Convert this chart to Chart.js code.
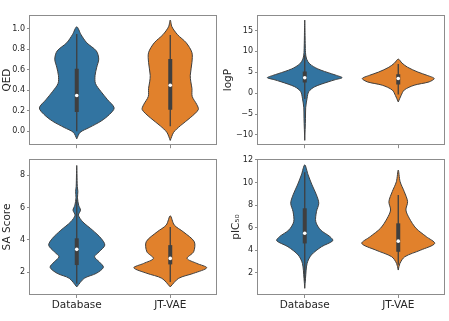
<!DOCTYPE html>
<html lang="en">
<head>
<meta charset="UTF-8">
<title>Violin plots - QED, logP, SA, pIC50</title>
<script src="https://cdn.jsdelivr.net/npm/chart.js"></script>
<style>
  body { margin: 0; background: #fff; width: 449px; height: 321px; position: relative; overflow: hidden; }
  canvas { position: absolute; }
</style>
</head>
<body>
<canvas id="qed" width="224" height="152" style="left:0;top:0"></canvas>
<canvas id="logp" width="227" height="152" style="left:222px;top:0"></canvas>
<canvas id="sa" width="224" height="169" style="left:0;top:152px"></canvas>
<canvas id="pic" width="225" height="169" style="left:224px;top:152px"></canvas>
<script>
const categories = ['Database', 'JT-VAE'];

// violin outlines: y levels and half widths (in category units)
const qedDbY = [-0.073, -0.01, 0.038, 0.10, 0.165, 0.229, 0.308, 0.387, 0.467, 0.546, 0.626, 0.705, 0.784, 0.864, 0.943, 1.02];
const qedDbW = [0, 0.036, 0.135, 0.26, 0.35, 0.40, 0.33, 0.26, 0.20, 0.196, 0.214, 0.235, 0.21, 0.107, 0.046, 0];
const qedJtY = [-0.089, -0.01, 0.054, 0.133, 0.212, 0.26, 0.34, 0.419, 0.483, 0.546, 0.673, 0.768, 0.864, 0.943, 1.02, 1.086];
const qedJtW = [0, 0.036, 0.107, 0.214, 0.30, 0.285, 0.235, 0.232, 0.22, 0.214, 0.232, 0.232, 0.171, 0.078, 0.018, 0];

const logpDbY = [-11.3, -6, -3.5, -1.2, 0.37, 1.54, 2.7, 3.25, 3.7, 4.25, 4.65, 5.8, 7.0, 8.15, 9.7, 17.5];
const logpDbW = [0, 0.008, 0.01, 0.025, 0.043, 0.107, 0.25, 0.33, 0.40, 0.34, 0.285, 0.14, 0.053, 0.02, 0.008, 0];
const logpJtY = [-2.1, -0.57, 0.75, 1.9, 2.7, 3.5, 4.25, 5.05, 6.2, 7.2, 8.15];
const logpJtW = [0, 0.03, 0.064, 0.17, 0.33, 0.385, 0.31, 0.21, 0.1, 0.04, 0];

const saDbY = [1.1, 1.63, 1.94, 2.31, 2.65, 2.96, 3.27, 3.68, 4.1, 4.6, 5.12, 5.53, 5.84, 6.15, 6.6, 7.0, 7.3, 8.6];
const saDbW = [0, 0.08, 0.21, 0.285, 0.24, 0.19, 0.24, 0.30, 0.26, 0.17, 0.064, 0.018, 0.04, 0.02, 0.008, 0.012, 0.006, 0];
const saJtY = [1.1, 1.63, 1.94, 2.28, 2.55, 2.86, 3.27, 3.89, 4.5, 4.92, 5.49];
const saJtW = [0, 0.09, 0.25, 0.39, 0.285, 0.18, 0.25, 0.257, 0.14, 0.043, 0];

const picDbY = [0.62, 1.5, 2.83, 3.57, 4.31, 4.84, 5.2, 5.79, 6.52, 7.41, 8.16, 8.9, 9.78, 10.67, 11.56];
const picDbW = [0, 0.008, 0.025, 0.07, 0.18, 0.30, 0.27, 0.17, 0.118, 0.125, 0.15, 0.125, 0.078, 0.036, 0];
const picJtY = [2.24, 2.83, 3.42, 4.01, 4.6, 5.2, 5.94, 6.83, 7.56, 8.3, 9.19, 10.07, 11.1];
const picJtW = [0, 0.018, 0.07, 0.24, 0.39, 0.30, 0.19, 0.118, 0.082, 0.1, 0.064, 0.02, 0];

// inner box: [whisker low, q1, median, q3, whisker high]
const qedDbStats = [0.0, 0.19, 0.35, 0.61, 0.95];
const qedJtStats = [0.05, 0.21, 0.45, 0.705, 0.94];
const logpDbStats = [-1.4, 2.55, 3.7, 5.2, 9.2];
const logpJtStats = [-0.3, 2.1, 3.5, 4.5, 7.0];
const saDbStats = [1.3, 2.45, 3.42, 4.1, 6.5];
const saJtStats = [1.4, 2.49, 2.86, 3.68, 4.8];
const picDbStats = [1.3, 4.6, 5.5, 7.71, 10.9];
const picJtStats = [2.7, 3.86, 4.8, 6.38, 8.9];

// tick labels
const qedTicks = [0.0, 0.2, 0.4, 0.6, 0.8, 1.0];
const logpTicks = [-10, -5, 0, 5, 10, 15];
const saTicks = [2, 4, 6, 8];
const picTicks = [2, 4, 6, 8, 10, 12];

const colors = ['#3274a1', '#e1812c'];
const edge = '#3f3f3f';
const font = 'DejaVu Sans';

function violin(ys, ws, cx, color) {
    const pts = [];
    for (let i = 0; i < ys.length; i++) pts.push({ x: cx + ws[i], y: ys[i] });
    for (let i = ys.length - 2; i >= 0; i--) pts.push({ x: cx - ws[i], y: ys[i] });
    return {
        data: pts, showLine: true, fill: 'shape', backgroundColor: color,
        borderColor: edge, borderWidth: 1, tension: 0.3, pointRadius: 0
    };
}

function inner(stats, cx) {
    return [
        { data: [{ x: cx, y: stats[2] }], pointRadius: 1.8, pointBackgroundColor: '#fff', pointBorderWidth: 0, showLine: false },
        { data: [{ x: cx, y: stats[1] }, { x: cx, y: stats[3] }], showLine: true, borderColor: edge, borderWidth: 4, borderCapStyle: 'butt', pointRadius: 0 },
        { data: [{ x: cx, y: stats[0] }, { x: cx, y: stats[4] }], showLine: true, borderColor: edge, borderWidth: 1.3, borderCapStyle: 'butt', pointRadius: 0 }
    ];
}

const frame = {
    id: 'frame',
    beforeDatasetsDraw(chart) {
        const { ctx, chartArea: a } = chart;
        ctx.save();
        ctx.strokeStyle = '#8c8c8c';
        ctx.lineWidth = 1;
        ctx.strokeRect(Math.round(a.left) - 0.5, Math.round(a.top) + 0.5, Math.round(a.right - a.left), Math.round(a.bottom - a.top) - 1);
        ctx.restore();
    }
};

function panel(id, p) {
    const datasets = [
        ...inner(p.stats[0], 0), ...inner(p.stats[1], 1),
        violin(p.ys[0], p.ws[0], 0, colors[0]),
        violin(p.ys[1], p.ws[1], 1, colors[1])
    ];
    new Chart(document.getElementById(id), {
        type: 'scatter',
        data: { datasets },
        options: {
            responsive: false,
            animation: false,
            devicePixelRatio: 1,
            layout: { padding: p.pad },
            plugins: { legend: { display: false }, tooltip: { enabled: false } },
            scales: {
                x: {
                    type: 'linear', min: -0.5, max: 1.5,
                    afterBuildTicks: s => { s.ticks = [{ value: 0 }, { value: 1 }]; },
                    afterFit: s => { s.height = p.xh; },
                    grid: { display: true, drawOnChartArea: false, tickLength: 3, color: '#8c8c8c' },
                    border: { display: false },
                    ticks: {
                        display: p.showX, padding: 1, maxRotation: 0, autoSkip: false,
                        color: '#262626', font: { family: font, size: 10.5 },
                        callback: v => categories[v]
                    }
                },
                y: {
                    type: 'linear', min: p.min, max: p.max,
                    afterBuildTicks: s => { s.ticks = p.ticks.map(v => ({ value: v })); },
                    afterFit: s => { s.width = p.yw; },
                    grid: { display: true, drawOnChartArea: false, tickLength: 3, color: '#8c8c8c' },
                    border: { display: false },
                    ticks: {
                        padding: 2, autoSkip: false, color: '#262626',
                        font: { family: font, size: 8 },
                        callback: p.fmt
                    },
                    title: {
                        display: true, text: p.title, color: '#262626',
                        font: { family: font, size: 10.5 },
                        padding: { top: p.tpad, bottom: 0 }
                    }
                }
            }
        },
        plugins: [frame]
    });
}

const minus = v => (v < 0 ? '\u2212' + Math.abs(v) : String(v));

panel('qed', {
    ys: [qedDbY, qedJtY], ws: [qedDbW, qedJtW], stats: [qedDbStats, qedJtStats],
    min: -0.135, max: 1.135, ticks: qedTicks, fmt: v => v.toFixed(1),
    title: 'QED', tpad: 1, yw: 30, xh: 4, showX: false,
    pad: { top: 15, right: 7, left: 0, bottom: 0 }
});
panel('logp', {
    ys: [logpDbY, logpJtY], ws: [logpDbW, logpJtW], stats: [logpDbStats, logpJtStats],
    min: -12.45, max: 18.7, ticks: logpTicks, fmt: minus,
    title: 'logP', tpad: 0, yw: 36, xh: 4, showX: false,
    pad: { top: 15, right: 4, left: 0, bottom: 0 }
});
panel('sa', {
    ys: [saDbY, saJtY], ws: [saDbW, saJtW], stats: [saDbStats, saJtStats],
    min: 0.6, max: 9.0, ticks: saTicks, fmt: v => String(v),
    title: 'SA Score', tpad: 1, yw: 30, xh: 26, showX: true,
    pad: { top: 7, right: 7, left: 0, bottom: 0 }
});
panel('pic', {
    ys: [picDbY, picJtY], ws: [picDbW, picJtW], stats: [picDbStats, picJtStats],
    min: 0.03, max: 12.08, ticks: picTicks, fmt: v => String(v),
    title: 'pIC\u2085\u2080', tpad: 6, yw: 34, xh: 26, showX: true,
    pad: { top: 7, right: 4, left: 0, bottom: 0 }
});
</script>
</body>
</html>
